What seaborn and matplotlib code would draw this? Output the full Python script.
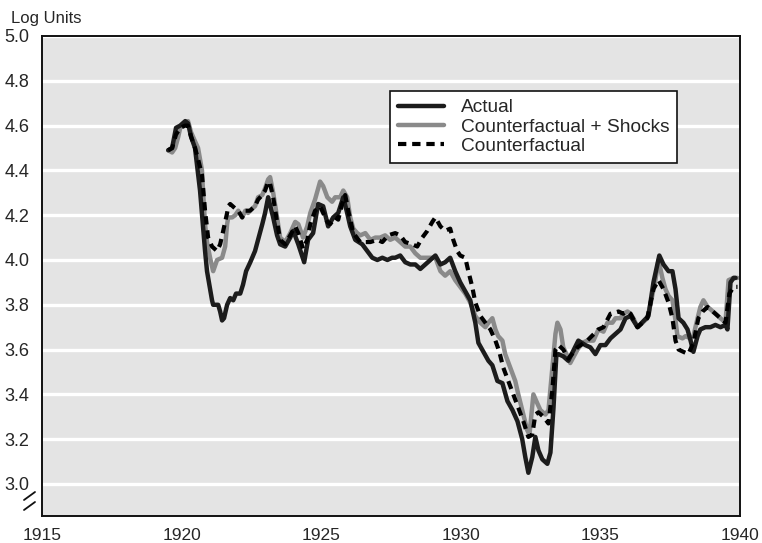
import matplotlib
matplotlib.use("Agg")
import matplotlib.pyplot as plt
import seaborn as sns
import pandas as pd

# values (year, log units)
actual_year = [1919.52, 1919.66, 1919.80, 1919.95, 1920.13, 1920.23, 1920.34, 1920.48, 1920.66, 1920.84,
               1920.91, 1921.09, 1921.13, 1921.31, 1921.38, 1921.45, 1921.52, 1921.63, 1921.74, 1921.85,
               1921.95, 1922.10, 1922.20, 1922.31, 1922.46, 1922.63, 1922.74, 1922.89, 1922.99, 1923.10,
               1923.28, 1923.42, 1923.53, 1923.71, 1923.89, 1924.00, 1924.18, 1924.39, 1924.53, 1924.71,
               1924.89, 1925.07, 1925.25, 1925.43, 1925.61, 1925.79, 1925.93, 1926.04, 1926.22, 1926.47,
               1926.65, 1926.83, 1927.01, 1927.19, 1927.37, 1927.54, 1927.65, 1927.83, 1928.01, 1928.19,
               1928.37, 1928.55, 1928.73, 1928.91, 1929.09, 1929.27, 1929.44, 1929.62, 1929.80, 1929.98,
               1930.16, 1930.34, 1930.52, 1930.63, 1930.81, 1930.99, 1931.13, 1931.31, 1931.49, 1931.67,
               1931.85, 1932.03, 1932.20, 1932.31, 1932.42, 1932.56, 1932.67, 1932.78, 1932.92, 1933.10,
               1933.21, 1933.32, 1933.42, 1933.49, 1933.67, 1933.85, 1934.21, 1934.46, 1934.64, 1934.82,
               1935.00, 1935.18, 1935.36, 1935.54, 1935.72, 1935.90, 1936.08, 1936.33, 1936.72, 1936.90,
               1937.11, 1937.26, 1937.44, 1937.58, 1937.69, 1937.80, 1937.97, 1938.12, 1938.23, 1938.33,
               1938.48, 1938.58, 1938.76, 1938.94, 1939.12, 1939.30, 1939.48, 1939.55, 1939.66, 1939.77,
               1939.84]
actual_val = [4.49, 4.50, 4.59, 4.60, 4.62, 4.61, 4.55, 4.50, 4.31, 4.04,
              3.95, 3.82, 3.80, 3.80, 3.77, 3.73, 3.74, 3.80, 3.83, 3.82,
              3.85, 3.85, 3.89, 3.95, 3.99, 4.04, 4.09, 4.16, 4.21, 4.28,
              4.19, 4.11, 4.07, 4.06, 4.10, 4.13, 4.07, 3.99, 4.09, 4.12,
              4.25, 4.24, 4.15, 4.19, 4.21, 4.28, 4.21, 4.15, 4.09, 4.07,
              4.04, 4.01, 4.00, 4.01, 4.00, 4.01, 4.01, 4.02, 3.99, 3.98,
              3.98, 3.96, 3.98, 4.00, 4.02, 3.98, 3.99, 4.01, 3.95, 3.90,
              3.86, 3.82, 3.72, 3.63, 3.59, 3.55, 3.53, 3.46, 3.45, 3.37,
              3.33, 3.28, 3.20, 3.12, 3.05, 3.12, 3.21, 3.15, 3.11, 3.09,
              3.14, 3.34, 3.57, 3.58, 3.57, 3.55, 3.64, 3.62, 3.61, 3.58,
              3.62, 3.62, 3.65, 3.67, 3.69, 3.74, 3.75, 3.70, 3.75, 3.90,
              4.02, 3.98, 3.95, 3.95, 3.87, 3.74, 3.72, 3.69, 3.64, 3.59,
              3.66, 3.69, 3.70, 3.70, 3.71, 3.70, 3.71, 3.69, 3.90, 3.92,
              3.92]

shocks_year = [1919.52, 1919.66, 1919.77, 1919.88, 1919.95, 1920.13, 1920.23, 1920.34, 1920.48, 1920.59,
               1920.73, 1920.77, 1920.84, 1920.91, 1921.02, 1921.13, 1921.27, 1921.45, 1921.56, 1921.63,
               1921.67, 1921.81, 1921.92, 1922.03, 1922.17, 1922.28, 1922.38, 1922.53, 1922.63, 1922.74,
               1922.89, 1922.99, 1923.10, 1923.17, 1923.28, 1923.42, 1923.53, 1923.71, 1923.89, 1924.07,
               1924.18, 1924.35, 1924.50, 1924.61, 1924.78, 1924.96, 1925.07, 1925.22, 1925.39, 1925.50,
               1925.68, 1925.79, 1925.93, 1926.04, 1926.15, 1926.29, 1926.40, 1926.58, 1926.76, 1926.94,
               1927.11, 1927.29, 1927.47, 1927.65, 1927.83, 1928.01, 1928.19, 1928.37, 1928.55, 1928.73,
               1928.91, 1929.09, 1929.27, 1929.44, 1929.62, 1929.80, 1929.98, 1930.16, 1930.34, 1930.52,
               1930.70, 1930.88, 1930.99, 1931.13, 1931.24, 1931.34, 1931.49, 1931.59, 1931.77, 1931.95,
               1932.06, 1932.24, 1932.38, 1932.46, 1932.60, 1932.74, 1932.85, 1933.03, 1933.14, 1933.28,
               1933.39, 1933.46, 1933.57, 1933.67, 1933.82, 1933.92, 1934.18, 1934.35, 1934.53, 1934.75,
               1934.93, 1935.11, 1935.25, 1935.43, 1935.54, 1935.72, 1935.82, 1935.97, 1936.08, 1936.18,
               1936.33, 1936.51, 1936.68, 1936.79, 1936.97, 1937.08, 1937.22, 1937.33, 1937.44, 1937.58,
               1937.69, 1937.76, 1937.94, 1938.05, 1938.23, 1938.33, 1938.48, 1938.58, 1938.69, 1938.84,
               1938.94, 1939.12, 1939.30, 1939.48, 1939.59, 1939.77, 1939.91]
shocks_val = [4.49, 4.48, 4.50, 4.55, 4.59, 4.61, 4.62, 4.57, 4.53, 4.50,
              4.40, 4.30, 4.16, 4.08, 4.01, 3.95, 4.00, 4.01, 4.06, 4.16,
              4.19, 4.19, 4.20, 4.22, 4.19, 4.22, 4.21, 4.23, 4.24, 4.28,
              4.29, 4.32, 4.36, 4.37, 4.30, 4.19, 4.10, 4.08, 4.12, 4.17,
              4.16, 4.10, 4.15, 4.21, 4.27, 4.35, 4.33, 4.28, 4.26, 4.28,
              4.28, 4.31, 4.28, 4.19, 4.14, 4.12, 4.11, 4.12, 4.09, 4.10,
              4.10, 4.11, 4.09, 4.10, 4.08, 4.06, 4.06, 4.03, 4.01, 4.01,
              4.01, 4.01, 3.95, 3.93, 3.95, 3.91, 3.88, 3.85, 3.81, 3.75,
              3.72, 3.70, 3.72, 3.74, 3.69, 3.66, 3.64, 3.58, 3.52, 3.46,
              3.40, 3.31, 3.24, 3.22, 3.40, 3.36, 3.33, 3.31, 3.33, 3.52,
              3.67, 3.72, 3.69, 3.61, 3.57, 3.54, 3.60, 3.63, 3.64, 3.64,
              3.69, 3.68, 3.72, 3.72, 3.74, 3.74, 3.76, 3.77, 3.76, 3.74,
              3.70, 3.72, 3.74, 3.80, 3.91, 4.00, 3.92, 3.87, 3.84, 3.82,
              3.73, 3.66, 3.65, 3.66, 3.65, 3.66, 3.74, 3.79, 3.82, 3.79,
              3.78, 3.76, 3.74, 3.72, 3.91, 3.92, 3.92]

cf_year = [1919.52, 1919.66, 1919.80, 1919.95, 1920.13, 1920.23, 1920.34, 1920.48, 1920.59, 1920.73,
           1920.84, 1920.95, 1921.09, 1921.27, 1921.38, 1921.49, 1921.63, 1921.67, 1921.74, 1921.92,
           1922.03, 1922.17, 1922.28, 1922.45, 1922.63, 1922.74, 1922.89, 1922.99, 1923.10, 1923.17,
           1923.28, 1923.42, 1923.53, 1923.71, 1923.89, 1924.07, 1924.18, 1924.35, 1924.50, 1924.61,
           1924.78, 1924.96, 1925.07, 1925.22, 1925.32, 1925.50, 1925.61, 1925.75, 1925.86, 1925.97,
           1926.15, 1926.40, 1926.76, 1927.01, 1927.19, 1927.40, 1927.65, 1927.83, 1928.01, 1928.26,
           1928.44, 1928.62, 1928.80, 1928.98, 1929.09, 1929.27, 1929.44, 1929.62, 1929.73, 1929.87,
           1929.98, 1930.16, 1930.27, 1930.41, 1930.52, 1930.70, 1930.88, 1931.06, 1931.24, 1931.38,
           1931.52, 1931.70, 1931.88, 1932.06, 1932.24, 1932.42, 1932.56, 1932.67, 1932.78, 1932.96,
           1933.14, 1933.28, 1933.39, 1933.50, 1933.67, 1933.85, 1934.18, 1934.53, 1934.93, 1935.11,
           1935.36, 1935.65, 1935.82, 1935.97, 1936.08, 1936.33, 1936.51, 1936.68, 1936.90, 1937.08,
           1937.26, 1937.44, 1937.58, 1937.69, 1937.80, 1937.97, 1938.15, 1938.33, 1938.51, 1938.66,
           1938.84, 1939.12, 1939.30, 1939.48, 1939.62, 1939.77, 1939.91]
cf_val = [4.49, 4.50, 4.56, 4.59, 4.60, 4.60, 4.55, 4.50, 4.45, 4.38,
          4.22, 4.10, 4.06, 4.04, 4.07, 4.13, 4.21, 4.24, 4.25, 4.23,
          4.22, 4.19, 4.22, 4.22, 4.24, 4.27, 4.29, 4.31, 4.35, 4.34,
          4.28, 4.17, 4.09, 4.07, 4.11, 4.15, 4.12, 4.05, 4.09, 4.16,
          4.22, 4.24, 4.21, 4.17, 4.16, 4.19, 4.18, 4.25, 4.29, 4.22,
          4.12, 4.08, 4.08, 4.09, 4.08, 4.11, 4.12, 4.11, 4.08, 4.07,
          4.06, 4.10, 4.13, 4.17, 4.19, 4.15, 4.13, 4.14, 4.09, 4.04,
          4.02, 4.01, 3.95, 3.88, 3.81, 3.75, 3.72, 3.69, 3.64, 3.59,
          3.52, 3.46, 3.40, 3.34, 3.28, 3.21, 3.22, 3.31, 3.32, 3.30,
          3.27, 3.42, 3.60, 3.62, 3.60, 3.56, 3.61, 3.64, 3.69, 3.70,
          3.76, 3.77, 3.76, 3.77, 3.76, 3.70, 3.72, 3.74, 3.87, 3.91,
          3.87, 3.81, 3.74, 3.64, 3.60, 3.59, 3.58, 3.63, 3.74, 3.77,
          3.79, 3.76, 3.74, 3.72, 3.85, 3.88, 3.88]

x_ticks = [1915, 1920, 1925, 1930, 1935, 1940]
y_ticks = [3.0, 3.2, 3.4, 3.6, 3.8, 4.0, 4.2, 4.4, 4.6, 4.8, 5.0]

sns.set_style("white")
plt.rcParams["font.family"] = ["Liberation Sans", "DejaVu Sans"]

fig = plt.figure(figsize=(7.62, 5.43), dpi=100)
ax = fig.add_axes([42 / 762, 27 / 543, 698 / 762, 480 / 543])
ax.set_facecolor("#e4e4e4")

df_shocks = pd.DataFrame({"year": shocks_year, "value": shocks_val})
df_actual = pd.DataFrame({"year": actual_year, "value": actual_val})
df_cf = pd.DataFrame({"year": cf_year, "value": cf_val})

sns.lineplot(data=df_shocks, x="year", y="value", ax=ax, color="#8a8a8a", lw=3.2,
             sort=False, estimator=None, label="Counterfactual + Shocks", zorder=3)
sns.lineplot(data=df_actual, x="year", y="value", ax=ax, color="#1c1c1c", lw=3.2,
             sort=False, estimator=None, label="Actual", zorder=4)
sns.lineplot(data=df_cf, x="year", y="value", ax=ax, color="black", lw=3.0,
             sort=False, estimator=None, label="Counterfactual", zorder=5)
ax.lines[2].set_dashes([2.0, 1.4])

ax.set_xlim(1915, 1940)
ax.set_ylim(2.857, 5.0)
ax.set_xticks(x_ticks)
ax.set_yticks(y_ticks)
ax.set_yticklabels([f"{v:.1f}" for v in y_ticks])
ax.set_xlabel("")
ax.set_ylabel("")

ax.set_axisbelow(True)
ax.yaxis.grid(True, color="white", lw=2.4)
ax.xaxis.grid(False)
for s in ax.spines.values():
    s.set_color("#111111")
    s.set_linewidth(1.4)
    s.set_zorder(6)

ax.tick_params(axis="x", direction="in", length=9, width=1.3, pad=9, labelsize=12.5, color="#111111")
ax.tick_params(axis="y", length=0, pad=9, labelsize=13)

# axis break mark
tr = ax.transAxes
for y0 in (492, 502):
    ax.plot([(24 - 42) / 698, (35 - 42) / 698], [(516 - y0 - 8) / 480, (516 - y0) / 480],
            transform=tr, color="#111111", lw=1.3, clip_on=False, zorder=7)

fig.text(11 / 762, 1 - 19 / 543, "Log Units", fontsize=12, va="center", ha="left")

h, l = ax.get_legend_handles_labels()
order = [l.index("Actual"), l.index("Counterfactual + Shocks"), l.index("Counterfactual")]
leg = ax.legend([h[i] for i in order], [l[i] for i in order], loc="upper left",
                bbox_to_anchor=(0.4986, 0.885), frameon=True, fancybox=False,
                edgecolor="#111111", facecolor="white", framealpha=1, fontsize=13.8,
                handlelength=2.4, handletextpad=0.9, borderpad=0.4, labelspacing=0.1,
                borderaxespad=0)
leg.get_frame().set_linewidth(1.2)

fig.savefig("out.png", dpi=100)
